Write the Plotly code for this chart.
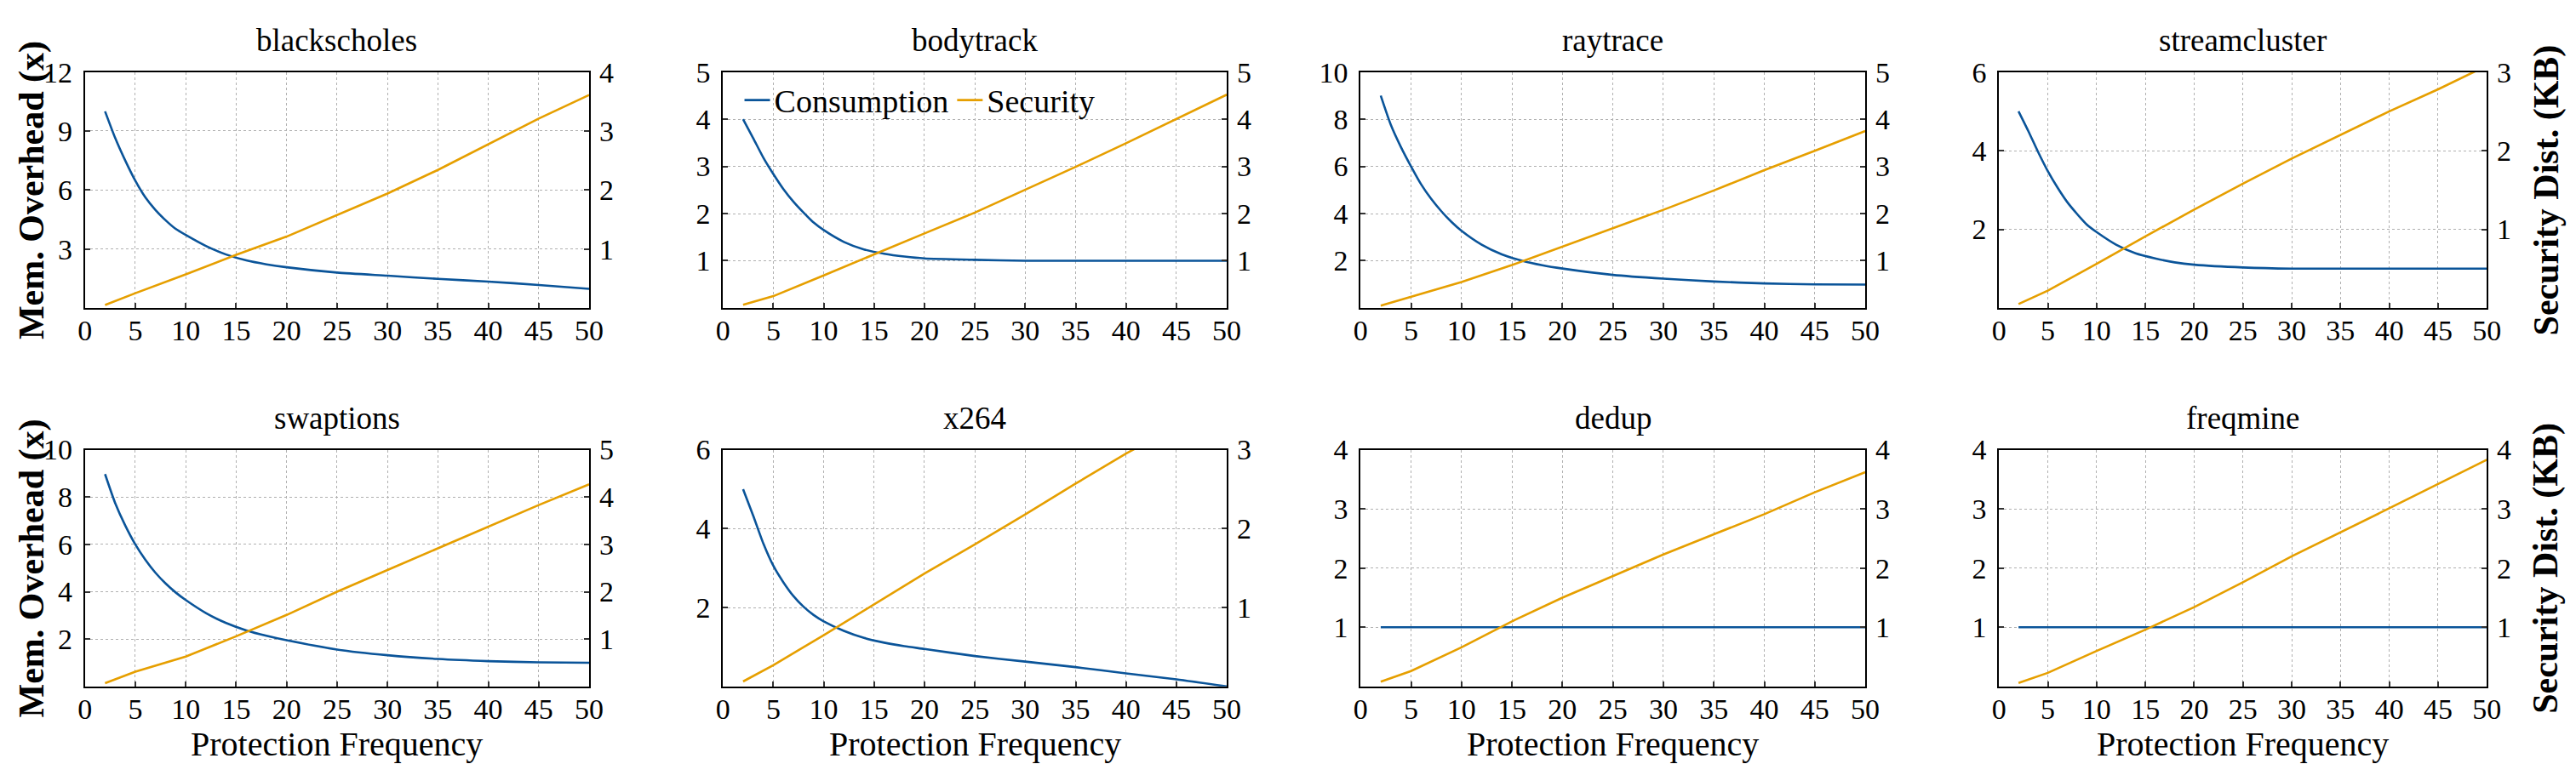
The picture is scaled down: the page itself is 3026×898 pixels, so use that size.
import plotly.graph_objects as go
from plotly.subplots import make_subplots

# protection frequency samples
freq_mem = [2, 3, 4, 5, 6, 7, 8, 9, 10, 12, 14, 16, 18, 20, 25, 30, 35, 40, 45, 50]
freq_sec = [2, 5, 10, 15, 20, 25, 30, 35, 40, 45, 50]

# memory overhead (x), left axis
blackscholes_mem = [10.0, 8.65, 7.5, 6.47, 5.62, 4.98, 4.46, 4.02, 3.71, 3.15, 2.72, 2.42, 2.22, 2.07, 1.8, 1.64, 1.48, 1.34, 1.17, 0.97]
bodytrack_mem = [4.0, 3.6, 3.19, 2.84, 2.52, 2.25, 2.02, 1.81, 1.65, 1.4, 1.24, 1.15, 1.09, 1.05, 1.02, 1.0, 1.0, 1.0, 1.0, 1.0]
raytrace_mem = [9.0, 7.76, 6.82, 6.0, 5.24, 4.62, 4.1, 3.65, 3.27, 2.68, 2.27, 2.0, 1.81, 1.67, 1.4, 1.24, 1.12, 1.04, 1.0, 0.99]
streamcluster_mem = [5.0, 4.5, 3.97, 3.48, 3.06, 2.69, 2.39, 2.12, 1.93, 1.61, 1.39, 1.26, 1.16, 1.10, 1.03, 1.0, 1.0, 1.0, 1.0, 1.0]
swaptions_mem = [8.97, 7.75, 6.8, 6.0, 5.35, 4.8, 4.35, 3.97, 3.65, 3.1, 2.68, 2.37, 2.14, 1.95, 1.56, 1.32, 1.16, 1.07, 1.02, 1.0]
x264_mem = [5.0, 4.33, 3.63, 3.06, 2.64, 2.29, 2.02, 1.81, 1.65, 1.41, 1.23, 1.11, 1.02, 0.95, 0.77, 0.63, 0.49, 0.33, 0.18, 0.0]
dedup_mem = [1.0] * 20
freqmine_mem = [1.0] * 20

# security distance (KB), right axis
blackscholes_sec = [0.05, 0.25, 0.57, 0.90, 1.21, 1.57, 1.94, 2.34, 2.77, 3.21, 3.61]
bodytrack_sec = [0.065, 0.25, 0.69, 1.14, 1.58, 2.02, 2.5, 2.99, 3.49, 4.0, 4.52]
raytrace_sec = [0.05, 0.24, 0.55, 0.91, 1.3, 1.69, 2.08, 2.49, 2.92, 3.33, 3.75]
streamcluster_sec = [0.05, 0.22, 0.56, 0.91, 1.25, 1.58, 1.9, 2.2, 2.5, 2.78, 3.08]
swaptions_sec = [0.07, 0.31, 0.63, 1.06, 1.51, 2.0, 2.46, 2.92, 3.37, 3.83, 4.27]
x264_sec = [0.063, 0.27, 0.65, 1.04, 1.43, 1.80, 2.18, 2.57, 2.95, 3.3, 3.64]
dedup_sec = [0.08, 0.26, 0.66, 1.1, 1.5, 1.87, 2.23, 2.57, 2.91, 3.28, 3.62]
freqmine_sec = [0.06, 0.23, 0.6, 0.96, 1.34, 1.76, 2.2, 2.6, 3.01, 3.42, 3.83]

benchmarks = ['blackscholes', 'bodytrack', 'raytrace', 'streamcluster',
              'swaptions', 'x264', 'dedup', 'freqmine']
mem_series = [blackscholes_mem, bodytrack_mem, raytrace_mem, streamcluster_mem,
              swaptions_mem, x264_mem, dedup_mem, freqmine_mem]
sec_series = [blackscholes_sec, bodytrack_sec, raytrace_sec, streamcluster_sec,
              swaptions_sec, x264_sec, dedup_sec, freqmine_sec]

# axis limits and tick labels
mem_max = [12, 5, 10, 6, 10, 6, 4, 4]
sec_max = [4, 5, 5, 3, 5, 3, 4, 4]
mem_ticks = [[3, 6, 9, 12], [1, 2, 3, 4, 5], [2, 4, 6, 8, 10], [2, 4, 6],
             [2, 4, 6, 8, 10], [2, 4, 6], [1, 2, 3, 4], [1, 2, 3, 4]]
sec_ticks = [[1, 2, 3, 4], [1, 2, 3, 4, 5], [1, 2, 3, 4, 5], [1, 2, 3],
             [1, 2, 3, 4, 5], [1, 2, 3], [1, 2, 3, 4], [1, 2, 3, 4]]

W, H = 3026, 898
FONT = 'Liberation Serif'
BLUE = '#0a5499'
ORANGE = '#e69f00'

# panel placement in pixels
col_px = [(91.5, 689), (847.5, 1444.5), (1603, 2201), (2359.5, 2937.5)]
row_px = [(68, 351), (521, 805)]

fig = make_subplots(rows=2, cols=4, specs=[[{'secondary_y': True}] * 4 for _ in range(2)])

axis_style = dict(showline=True, linecolor='black', linewidth=2, ticks='inside', ticklen=6,
                  tickwidth=1.5, tickcolor='#333333', zeroline=False,
                  tickfont=dict(family=FONT, size=34, color='black'))

annotations = []
for i, name in enumerate(benchmarks):
    r, c = i // 4 + 1, i % 4 + 1
    fig.add_trace(go.Scatter(x=freq_mem, y=mem_series[i], mode='lines', name='Consumption',
                             line=dict(color=BLUE, width=2.6, shape='spline', smoothing=0.6),
                             showlegend=(i == 1)),
                  row=r, col=c, secondary_y=False)
    fig.add_trace(go.Scatter(x=freq_sec, y=sec_series[i], mode='lines', name='Security',
                             line=dict(color=ORANGE, width=2.6),
                             showlegend=(i == 1)),
                  row=r, col=c, secondary_y=True)

    x0, x1 = col_px[c - 1]
    y0, y1 = row_px[r - 1]
    fig.update_xaxes(domain=[x0 / W, x1 / W], range=[0, 50], tick0=0, dtick=5, tickangle=0,
                     mirror=True, showgrid=True, gridcolor='#b0b0b0', griddash='dot', gridwidth=1,
                     ticklabelstandoff=-5, **axis_style, row=r, col=c)
    fig.update_yaxes(domain=[1 - y1 / H, 1 - y0 / H], range=[0, mem_max[i]], tickmode='array',
                     tickvals=mem_ticks[i], showgrid=True, gridcolor='#b0b0b0', griddash='dot',
                     gridwidth=1, ticklabelstandoff=6, **axis_style, row=r, col=c, secondary_y=False)
    fig.update_yaxes(range=[0, sec_max[i]], tickmode='array', tickvals=sec_ticks[i],
                     showgrid=False, ticklabelstandoff=3, **axis_style,
                     row=r, col=c, secondary_y=True)

    # subplot title
    annotations.append(dict(text=name, x=(x0 + x1) / 2 / W, y=1 - (y0 - 38) / H,
                            xref='paper', yref='paper', xanchor='center', yanchor='middle',
                            showarrow=False, font=dict(family=FONT, size=37, color='black')))
    if r == 2:
        annotations.append(dict(text='Protection Frequency', x=(x0 + x1) / 2 / W, y=1 - 874 / H,
                                xref='paper', yref='paper', xanchor='center', yanchor='middle',
                                showarrow=False, font=dict(family=FONT, size=40, color='black')))
    if c == 1:
        annotations.append(dict(text='<b>Mem. Overhead (x)</b>', x=29 / W, y=1 - (y0 + y1) / 2 / H,
                                xref='paper', yref='paper', xanchor='center', yanchor='middle',
                                textangle=-90, showarrow=False,
                                font=dict(family=FONT, size=42, color='black')))
    if c == 4:
        annotations.append(dict(text='<b>Security Dist. (KB)</b>', x=3008 / W, y=1 - (y0 + y1) / 2 / H,
                                xref='paper', yref='paper', xanchor='center', yanchor='middle',
                                textangle=-90, showarrow=False,
                                font=dict(family=FONT, size=42, color='black')))

fig.update_layout(
    width=W, height=H,
    margin=dict(l=0, r=0, t=0, b=0),
    plot_bgcolor='white', paper_bgcolor='white',
    font=dict(family=FONT, color='black'),
    annotations=annotations,
    legend=dict(orientation='h', x=868 / W, y=1 - 102 / H, xanchor='left', yanchor='middle',
                bgcolor='rgba(0,0,0,0)', font=dict(family=FONT, size=38, color='black')),
)

# drop the default page margin so the figure sits at the window's corner
fig.write_html("out.html", config={'displayModeBar': False},
               post_script="document.body.style.margin = '0';")
